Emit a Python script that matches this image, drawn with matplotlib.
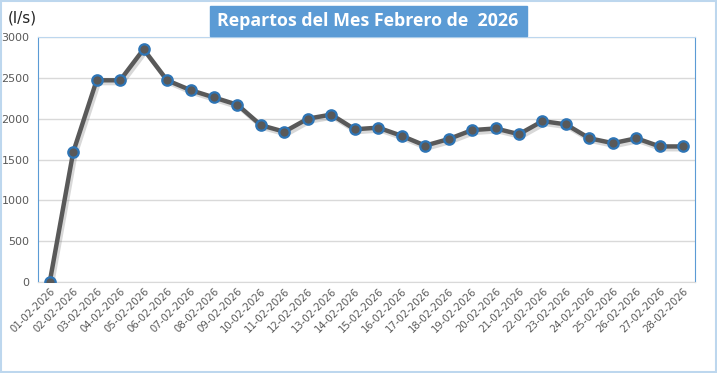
import numpy as np
import matplotlib.pyplot as plt
import matplotlib.patheffects as pe
from matplotlib.patches import Rectangle

# fechas y caudales (l/s)
fechas = ['%02d-02-2026' % d for d in range(1, 29)]
caudal = [0, 1590, 2470, 2470, 2850, 2470, 2350, 2260, 2170, 1920,
          1840, 2000, 2050, 1870, 1890, 1790, 1670, 1750, 1860, 1880,
          1810, 1970, 1930, 1760, 1700, 1760, 1660, 1660]
yticks = [0, 500, 1000, 1500, 2000, 2500, 3000]

fig = plt.figure(figsize=(7.17, 3.73), dpi=100)
ax = fig.add_axes([38/717, 91/373, 657/717, 245/373])

x = np.arange(len(fechas))
# linea con sombra
ax.plot(x, caudal, color='#595959', lw=3.2, zorder=3, solid_capstyle='round',
        path_effects=[pe.SimpleLineShadow(offset=(1.5, -2), alpha=0.3, shadow_color='#7F7F7F'),
                      pe.Normal()])
# marcadores
ax.plot(x, caudal, ls='none', marker='o', ms=7.5, mfc='#595959', mec='#2E75B6',
        mew=1.6, zorder=4)

ax.set_xlim(-0.5, len(fechas) - 0.5)
ax.set_ylim(0, 3000)
ax.set_yticks(yticks)
ax.set_xticks(x)
ax.set_xticklabels(fechas, rotation=45, ha='right', rotation_mode='anchor',
                   fontsize=7.3, color='#595959')
ax.tick_params(axis='y', labelsize=8, colors='#595959', length=0, pad=6)
ax.tick_params(axis='x', length=0, pad=3)
ax.grid(axis='y', color='#D9D9D9', lw=1)
ax.set_axisbelow(True)
for s in ['left', 'right']:
    ax.spines[s].set_color('#5B9BD5')
ax.spines['top'].set_color('#BDD7EE')
ax.spines['bottom'].set_color('#D9D9D9')

fig.text(22/717, 1 - 18/373, '(l/s)', fontsize=11, ha='center', va='center', color='#262626')

# caja del titulo
fig.patches.append(Rectangle((210/717, 1 - 36/373), 317/717, 30/373,
                             transform=fig.transFigure, color='#5B9BD5', zorder=1))
fig.text(368/717, 1 - 21/373, 'Repartos del Mes Febrero de  2026', fontsize=12.8,
         fontweight='bold', family='Open Sans', color='white', ha='center', va='center', zorder=2)

# borde exterior
fig.patches.append(Rectangle((0.001, 0.002), 0.997, 0.995, transform=fig.transFigure,
                             fill=False, ec='#BDD7EE', lw=1.5))

plt.savefig('out.png', dpi=100)
